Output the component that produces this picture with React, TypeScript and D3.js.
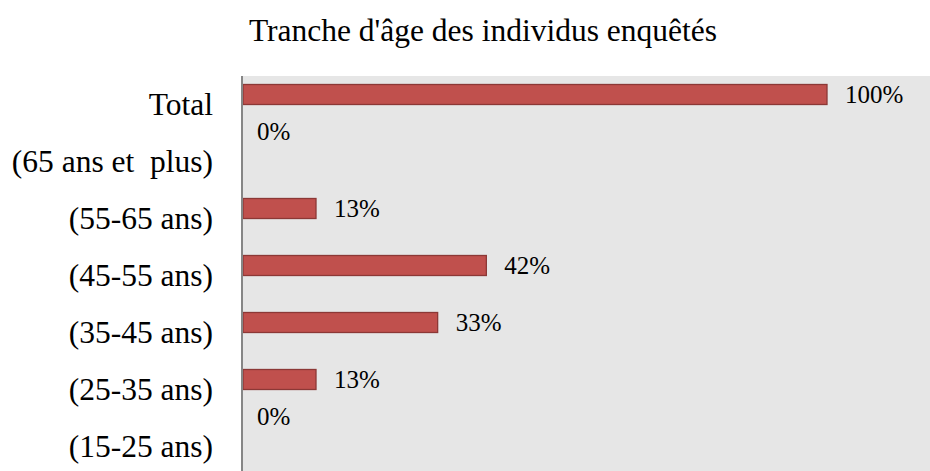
import React, { useEffect, useRef } from 'react';
import * as d3 from 'd3';

// categories, top to bottom as drawn
const categories = [
  'Total',
  '(65 ans et  plus)',
  '(55-65 ans)',
  '(45-55 ans)',
  '(35-45 ans)',
  '(25-35 ans)',
  '(15-25 ans)',
];
// share of surveyed individuals per age group
const shares = [1, 0, 0.125, 0.4167, 0.3333, 0.125, 0];
const valueLabels = ['100%', '0%', '13%', '42%', '33%', '13%', '0%'];

const title = "Tranche d'âge des individus enquêtés";

const App = () => {
  const svgRef = useRef(null);
  const width = 930;
  const height = 471;

  useEffect(() => {
    const svg = d3.select(svgRef.current);
    svg.selectAll('*').remove();

    const margin = { top: 76, left: 243, right: 0 };
    const font = '"Liberation Serif", "Times New Roman", serif';

    const x = d3.scaleLinear().domain([0, 1]).range([margin.left, margin.left + 584]);
    const y = d3
      .scaleBand()
      .domain(categories)
      .range([margin.top, margin.top + 57 * categories.length])
      .padding(0);

    // plot background
    svg
      .append('rect')
      .attr('x', margin.left)
      .attr('y', margin.top)
      .attr('width', width - margin.left)
      .attr('height', height - margin.top)
      .attr('fill', '#e6e6e6');

    // title
    svg
      .append('text')
      .attr('x', 483)
      .attr('y', 41)
      .attr('text-anchor', 'middle')
      .attr('font-family', font)
      .attr('font-size', 31.5)
      .attr('fill', '#000')
      .text(title);

    // category labels (keep the double space in "et  plus")
    svg
      .append('g')
      .selectAll('text')
      .data(categories)
      .enter()
      .append('text')
      .attr('x', 213)
      .attr('y', (d) => y(d) + 39)
      .attr('text-anchor', 'end')
      .attr('font-family', font)
      .attr('font-size', 31.5)
      .attr('fill', '#000')
      .style('white-space', 'pre')
      .text((d) => d);

    const rows = categories.map((c, i) => ({ c, v: shares[i], label: valueLabels[i] }));

    // bars
    svg
      .append('g')
      .selectAll('rect')
      .data(rows.filter((d) => d.v > 0))
      .enter()
      .append('rect')
      .attr('x', x(0))
      .attr('y', (d) => y(d.c) + 8.5)
      .attr('width', (d) => x(d.v) - x(0))
      .attr('height', 20)
      .attr('fill', '#c0504d')
      .attr('stroke', '#8c3836')
      .attr('stroke-width', 1.3);

    // value labels
    svg
      .append('g')
      .selectAll('text')
      .data(rows)
      .enter()
      .append('text')
      .attr('x', (d) => (d.v > 0 ? x(d.v) + 18 : x(0) + 14))
      .attr('y', (d) => (d.v > 0 ? y(d.c) + 26.5 : y(d.c) + 7))
      .attr('font-family', font)
      .attr('font-size', 25)
      .attr('fill', '#000')
      .text((d) => d.label);

    // vertical axis line
    svg
      .append('line')
      .attr('x1', 242)
      .attr('x2', 242)
      .attr('y1', margin.top)
      .attr('y2', height)
      .attr('stroke', '#868686')
      .attr('stroke-width', 2);
  }, []);

  return (
    <svg
      ref={svgRef}
      width={width}
      height={height}
      style={{ position: 'absolute', left: 0, top: 0, background: '#fff' }}
    ></svg>
  );
};

export default App;
